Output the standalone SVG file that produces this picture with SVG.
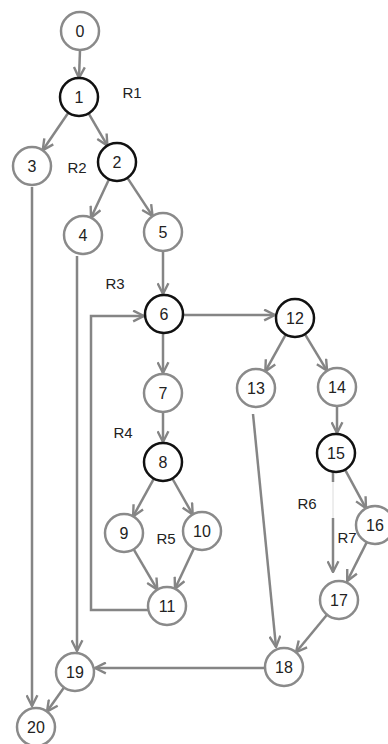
<svg xmlns="http://www.w3.org/2000/svg" width="388" height="744" viewBox="0 0 388 744">
<style>
.n circle{fill:#fff;stroke:#8a8a8a;stroke-width:2.5}
.b circle{stroke:#111}
text{font-family:"Liberation Sans",Arial,sans-serif;font-size:16px;fill:#222;text-anchor:middle;dominant-baseline:central}
.e{fill:none;stroke:#858585;stroke-width:2.5}
.lbl{font-size:15px}
</style>
<defs>
<marker id="a" viewBox="0 0 12 12" refX="11" refY="6" markerWidth="13" markerHeight="13" markerUnits="userSpaceOnUse" orient="auto">
<path d="M1,1 L11,6 L1,11" fill="none" stroke="#858585" stroke-width="2.2"/>
</marker>
</defs>
<rect width="388" height="744" fill="#fff"/>
<g id="connectors">
<line class="e" x1="80" y1="50" x2="79" y2="78" marker-end="url(#a)"/>
<line class="e" x1="68.3" y1="112.7" x2="42.7" y2="150.3" marker-end="url(#a)"/>
<line class="e" x1="88.6" y1="113.4" x2="107.4" y2="145.6" marker-end="url(#a)"/>
<line class="e" x1="109" y1="179.2" x2="91" y2="217.8" marker-end="url(#a)"/>
<line class="e" x1="127.4" y1="177.9" x2="152.6" y2="216.1" marker-end="url(#a)"/>
<line class="e" x1="32" y1="187" x2="32" y2="706" marker-end="url(#a)"/>
<line class="e" x1="77" y1="256" x2="77" y2="651" marker-end="url(#a)"/>
<line class="e" x1="163" y1="251" x2="163" y2="294" marker-end="url(#a)"/>
<line class="e" x1="183" y1="315" x2="275" y2="315" marker-end="url(#a)"/>
<line class="e" x1="163" y1="333" x2="163" y2="373" marker-end="url(#a)"/>
<line class="e" x1="163" y1="412" x2="163" y2="442" marker-end="url(#a)"/>
<line class="e" x1="285.7" y1="334.6" x2="265.3" y2="371.4" marker-end="url(#a)"/>
<line class="e" x1="304.9" y1="334.2" x2="327.1" y2="370.8" marker-end="url(#a)"/>
<line class="e" x1="337" y1="406" x2="337" y2="433" marker-end="url(#a)"/>
<line class="e" x1="153.9" y1="478.6" x2="133.1" y2="516.4" marker-end="url(#a)"/>
<line class="e" x1="172.3" y1="478.5" x2="192.7" y2="514.5" marker-end="url(#a)"/>
<line class="e" x1="133.7" y1="549.4" x2="157.3" y2="589.6" marker-end="url(#a)"/>
<line class="e" x1="194" y1="548.2" x2="175" y2="588.8" marker-end="url(#a)"/>
<path class="e" d="M148,610 H91 V316 H144" marker-end="url(#a)"/>
<line class="e" x1="253" y1="414" x2="276" y2="647" marker-end="url(#a)"/>
<line class="e" x1="345" y1="469.7" x2="366" y2="508.3" marker-end="url(#a)"/>
<line class="e" x1="333" y1="472" x2="333" y2="482"/>
<line x1="333" y1="482" x2="333" y2="518" stroke="#dcdcdc" stroke-width="1"/>
<line class="e" x1="333" y1="518" x2="333" y2="572" marker-end="url(#a)"/>
<line class="e" x1="366.8" y1="542.1" x2="347.2" y2="581" marker-end="url(#a)"/>
<line class="e" x1="327" y1="614.7" x2="296" y2="652.3" marker-end="url(#a)"/>
<line class="e" x1="265" y1="668" x2="95" y2="668" marker-end="url(#a)"/>
<line class="e" x1="64" y1="687.5" x2="47" y2="711.5" marker-end="url(#a)"/>
</g>
<g id="n0" class="n"><circle cx="80" cy="31" r="19"/><text x="80" y="31">0</text></g>
<g id="n1" class="n b"><circle cx="79" cy="97" r="19"/><text x="79" y="97">1</text></g>
<g id="n2" class="n b"><circle cx="117" cy="162" r="19"/><text x="117" y="162">2</text></g>
<g id="n3" class="n"><circle cx="32" cy="166" r="19"/><text x="32" y="166">3</text></g>
<g id="n4" class="n"><circle cx="83" cy="235" r="19"/><text x="83" y="235">4</text></g>
<g id="n5" class="n"><circle cx="163" cy="232" r="19"/><text x="163" y="232">5</text></g>
<g id="n6" class="n b"><circle cx="164" cy="314" r="19"/><text x="164" y="314">6</text></g>
<g id="n7" class="n"><circle cx="163" cy="393" r="19"/><text x="163" y="393">7</text></g>
<g id="n8" class="n b"><circle cx="163" cy="462" r="19"/><text x="163" y="462">8</text></g>
<g id="n9" class="n"><circle cx="124" cy="533" r="19"/><text x="124" y="533">9</text></g>
<g id="n10" class="n"><circle cx="202" cy="531" r="19"/><text x="202" y="531">10</text></g>
<g id="n11" class="n"><circle cx="167" cy="606" r="19"/><text x="167" y="606">11</text></g>
<g id="n12" class="n b"><circle cx="295" cy="318" r="19"/><text x="295" y="318">12</text></g>
<g id="n13" class="n"><circle cx="256" cy="388" r="19"/><text x="256" y="388">13</text></g>
<g id="n14" class="n"><circle cx="337" cy="387" r="19"/><text x="337" y="387">14</text></g>
<g id="n15" class="n b"><circle cx="336" cy="453" r="19"/><text x="336" y="453">15</text></g>
<g id="n16" class="n"><circle cx="375" cy="525" r="19"/><text x="375" y="525">16</text></g>
<g id="n17" class="n"><circle cx="339" cy="600" r="19"/><text x="339" y="600">17</text></g>
<g id="n18" class="n"><circle cx="284" cy="667" r="19"/><text x="284" y="667">18</text></g>
<g id="n19" class="n"><circle cx="75" cy="672" r="19"/><text x="75" y="672">19</text></g>
<g id="n20" class="n"><circle cx="36" cy="727" r="19"/><text x="36" y="727">20</text></g>
<g id="labels">
<text class="lbl" x="132" y="92">R1</text>
<text class="lbl" x="77" y="167">R2</text>
<text class="lbl" x="115" y="283">R3</text>
<text class="lbl" x="123" y="432">R4</text>
<text class="lbl" x="166" y="538">R5</text>
<text class="lbl" x="307" y="503">R6</text>
<text class="lbl" x="347" y="537">R7</text>
</g>
</svg>
